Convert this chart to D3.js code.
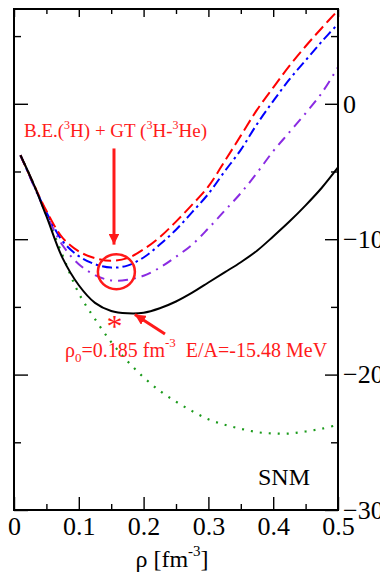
<!DOCTYPE html>
<html>
<head>
<meta charset="utf-8">
<script src="https://cdn.jsdelivr.net/npm/d3@7"></script>
<style>
  body { margin: 0; background: #fff; }
  svg { display: block; }
  svg text { font-family: "Liberation Serif", "Times New Roman", serif; }
</style>
</head>
<body>
<div id="chart"></div>
<script>
// density grid [fm^-3]
const rho = [0.01, 0.03, 0.05, 0.075, 0.1, 0.125, 0.15, 0.175, 0.2, 0.225, 0.25,
             0.275, 0.3, 0.325, 0.35, 0.375, 0.4, 0.425, 0.45, 0.475, 0.5]

// E/A [MeV] for each curve
const solidBlack = [-3.8, -5.9, -8.3, -11.4, -13.4, -14.7, -15.3, -15.47, -15.43, -15.1, -14.6,
                    -13.95, -13.2, -12.45, -11.7, -10.85, -9.8, -8.7, -7.5, -6.2, -4.7]
const dashedRed  = [-3.8, -5.9, -7.9, -9.9, -10.9, -11.4, -11.6, -11.4, -10.75, -9.85, -8.7,
                    -7.45, -6.1, -4.25, -2.35, -0.45, 1.2, 2.8, 4.25, 5.6, 6.9]
const dashDotBlue = [-3.8, -5.95, -8.0, -10.15, -11.25, -11.85, -12.1, -11.95, -11.35, -10.4, -9.3,
                     -8.0, -6.65, -5.0, -3.4, -1.5, 0.2, 1.8, 3.2, 4.6, 5.9]
const dashDotViolet = [-3.8, -6.0, -8.15, -10.45, -11.85, -12.65, -13.05, -13.0, -12.7, -12.1, -11.3,
                       -10.4, -9.2, -7.9, -6.6, -5.1, -3.5, -2.1, -0.7, 0.8, 2.7]
const dottedGreen = [-3.8, -5.9, -8.2, -11.2, -14.0, -15.9, -17.6, -19.0, -20.2, -21.2, -22.0,
                     -22.7, -23.3, -23.7, -24.0, -24.25, -24.35, -24.35, -24.2, -24.0, -23.7]

const xTicks = [0, 0.1, 0.2, 0.3, 0.4, 0.5]
const xMinor = [0.05, 0.15, 0.25, 0.35, 0.45]
const yTicks = [-30, -20, -10, 0]
const yMinor = [-25, -15, -5, 5]

// saturation point and annotation anchors (data coords)
const satRho = 0.185
const satE = -15.48
const circleAt = [0.158, -12.4]
const starAt = [0.155, -16.1]

const W = 380, H = 575
const margin = {top: 9, right: 42, bottom: 65, left: 14}
const width = W - margin.left - margin.right
const height = H - margin.top - margin.bottom

const svg = d3.select("#chart").append("svg")
  .attr("width", W).attr("height", H)

const g = svg.append("g")
  .attr("transform", "translate(" + margin.left + "," + margin.top + ")")

const x = d3.scaleLinear().domain([0, 0.5]).range([0, width])
const y = d3.scaleLinear().domain([-30, 7]).range([height, 0])

g.append("clipPath").attr("id", "clip")
  .append("rect").attr("width", width).attr("height", height)

// curves
const line = d3.line()
  .x((d, i) => x(rho[i]))
  .y(d => y(d))
  .curve(d3.curveCatmullRom)

const curves = [
  {v: dottedGreen, color: "#1a9a1a", dash: "2,7", w: 2.2},
  {v: dashDotViolet, color: "#8a2be2", dash: "10,6,2,6", w: 2},
  {v: dashDotBlue, color: "#0000ff", dash: "10,4,2.5,4", w: 2},
  {v: dashedRed, color: "#ff0000", dash: "12,5", w: 2},
  {v: solidBlack, color: "#000", dash: null, w: 2}
]

const curveG = g.append("g").attr("clip-path", "url(#clip)")
curves.forEach(c => {
  curveG.append("path")
    .attr("d", line(c.v))
    .attr("fill", "none")
    .attr("stroke", c.color)
    .attr("stroke-width", c.w)
    .attr("stroke-dasharray", c.dash)
})

// axes: ticks point inward on all four sides
function styleAxis(sel) {
  sel.attr("font-family", null).attr("font-size", null)
  sel.select(".domain").remove()
  sel.selectAll("line").attr("stroke", "#000").attr("stroke-width", 1.4)
  sel.selectAll("text").attr("font-size", 26).attr("fill", "#000")
}

g.append("g").attr("transform", "translate(0," + height + ")")
  .call(d3.axisBottom(x).tickValues(xTicks).tickSize(-13).tickPadding(7)
    .tickFormat(d => d === 0 ? "0" : d3.format(".1f")(d)))
  .call(styleAxis)
g.append("g").attr("transform", "translate(0," + height + ")")
  .call(d3.axisBottom(x).tickValues(xMinor).tickSize(-6).tickFormat(""))
  .call(styleAxis)
g.append("g")
  .call(d3.axisTop(x).tickValues(xTicks).tickSize(-8).tickFormat(""))
  .call(styleAxis)
g.append("g")
  .call(d3.axisTop(x).tickValues(xMinor).tickSize(-5).tickFormat(""))
  .call(styleAxis)

g.append("g")
  .call(d3.axisLeft(y).tickValues(yTicks).tickSize(-14).tickFormat(""))
  .call(styleAxis)
g.append("g")
  .call(d3.axisLeft(y).tickValues(yMinor).tickSize(-7).tickFormat(""))
  .call(styleAxis)
g.append("g").attr("transform", "translate(" + width + ",0)")
  .call(d3.axisRight(y).tickValues(yTicks).tickSize(-13).tickPadding(5))
  .call(styleAxis)
g.append("g").attr("transform", "translate(" + width + ",0)")
  .call(d3.axisRight(y).tickValues(yMinor).tickSize(-7).tickFormat(""))
  .call(styleAxis)

// frame
g.append("rect")
  .attr("width", width).attr("height", height)
  .attr("fill", "none").attr("stroke", "#000").attr("stroke-width", 2)

// annotations
const red = "#ff1a1a"

const t1 = g.append("text")
  .attr("x", 10).attr("y", 128)
  .attr("fill", red).attr("font-size", 19)
t1.append("tspan").text("B.E.(")
t1.append("tspan").text("3").attr("font-size", 12).attr("dy", -8)
t1.append("tspan").text("H) + GT (").attr("dy", 8)
t1.append("tspan").text("3").attr("font-size", 12).attr("dy", -8)
t1.append("tspan").text("H-").attr("dy", 8)
t1.append("tspan").text("3").attr("font-size", 12).attr("dy", -8)
t1.append("tspan").text("He)").attr("dy", 8)

const defs = svg.append("defs")
defs.append("marker").attr("id", "head")
  .attr("viewBox", "0 0 10 10").attr("refX", 10).attr("refY", 5)
  .attr("markerWidth", 3.6).attr("markerHeight", 3.6)
  .attr("markerUnits", "strokeWidth")
  .attr("orient", "auto")
  .append("path").attr("d", "M0,0 L10,5 L0,10 z").attr("fill", red)

g.append("line")
  .attr("x1", x(0.1543)).attr("y1", y(-3.3))
  .attr("x2", x(0.1543)).attr("y2", y(-10.4))
  .attr("stroke", red).attr("stroke-width", 3)
  .attr("marker-end", "url(#head)")

g.append("ellipse")
  .attr("cx", x(circleAt[0])).attr("cy", y(circleAt[1]))
  .attr("rx", 18.5).attr("ry", 17.5)
  .attr("fill", "none").attr("stroke", red).attr("stroke-width", 2.5)

g.append("text")
  .attr("x", x(starAt[0])).attr("y", y(starAt[1]) + 15)
  .attr("text-anchor", "middle")
  .attr("fill", red).attr("font-size", 32)
  .text("*")

g.append("line")
  .attr("x1", x(0.233)).attr("y1", y(-17.0))
  .attr("x2", x(satRho) + 1).attr("y2", y(satE) + 1)
  .attr("stroke", red).attr("stroke-width", 3)
  .attr("marker-end", "url(#head)")

const t2 = g.append("text")
  .attr("x", 51).attr("y", 348)
  .attr("fill", red).attr("font-size", 20)
t2.append("tspan").text("ρ")
t2.append("tspan").text("0").attr("font-size", 13).attr("dy", 5)
t2.append("tspan").text("=0.185 fm").attr("dy", -5)
t2.append("tspan").text("-3").attr("font-size", 13).attr("dy", -10)
t2.append("tspan").text("\u00a0\u00a0E/A=-15.48 MeV").attr("dy", 10)

g.append("text")
  .attr("x", 244).attr("y", 476)
  .attr("font-size", 24).attr("fill", "#000")
  .text("SNM")

// x label
const xl = svg.append("text")
  .attr("x", 172).attr("y", 567)
  .attr("text-anchor", "middle")
  .attr("font-size", 24).attr("fill", "#000")
xl.append("tspan").text("ρ [fm")
xl.append("tspan").text("-3").attr("font-size", 15).attr("dy", -11)
xl.append("tspan").text("]").attr("dy", 11)
</script>
</body>
</html>
